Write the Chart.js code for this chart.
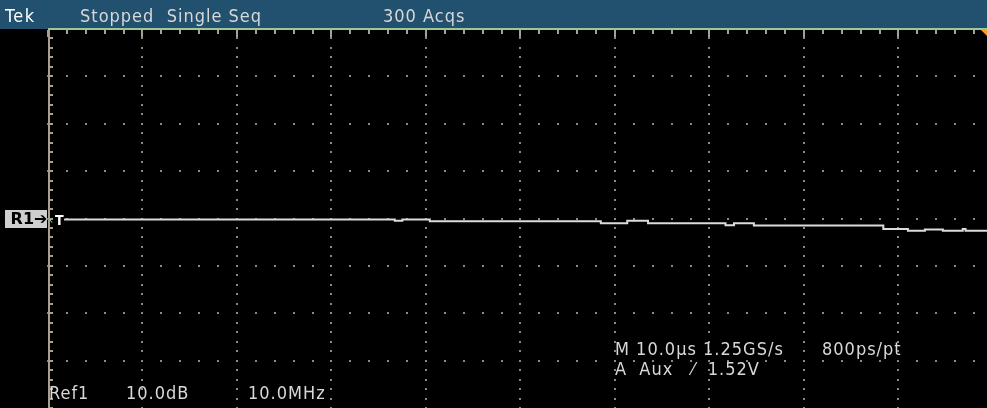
<!DOCTYPE html>
<html>
<head>
<meta charset="utf-8">
<script src="https://cdn.jsdelivr.net/npm/chart.js@4.4.1/dist/chart.umd.min.js"></script>
<style>
    html, body { margin: 0; padding: 0; background: #000; }
    #scope { position: relative; width: 987px; height: 408px; background: #000; overflow: hidden; }
    #barra { position: absolute; left: 0; top: 0; width: 987px; height: 29px; background: #22506f; }
    canvas { position: absolute; left: 0; top: 0; }
    .txt {
        position: absolute; white-space: pre; color: #d8d8d8;
        font-family: "DejaVu Sans Condensed", "Liberation Sans Narrow", "DejaVu Sans", sans-serif;
        font-stretch: condensed; font-size: 18px; line-height: 18px; letter-spacing: 1px;
    }
    #r1 {
        position: absolute; left: 5px; top: 210px; width: 42px; height: 18px;
        background: #cfcfcf; color: #000; font: bold 16px "DejaVu Sans", sans-serif; line-height: 18px;
        white-space: pre;
    }
</style>
</head>
<body>
<div id="scope">
    <div id="barra"></div>
    <canvas id="graficaTraza" width="987" height="408"></canvas>
    <div class="txt" style="left:5px; top:7px; color:#fff; letter-spacing:1.5px;">Tek</div>
    <div class="txt" style="left:80px; top:7px;">Stopped  Single Seq</div>
    <div class="txt" style="left:383px; top:7px;">300 Acqs</div>
    <div id="r1"> R1➔</div>
    <div class="txt" style="left:49px; top:211px; color:#7fd07f; font-size:12px; letter-spacing:0;">‹</div>
    <div class="txt" style="left:55px; top:211px; color:#fff; font-weight:bold; font-size:14px; letter-spacing:0;">T</div>
    <div class="txt" style="left:615px; top:340px;">M 10.0µs 1.25GS/s</div>
    <div class="txt" style="left:822px; top:340px;">800ps/pt</div>
    <div class="txt" style="left:615px; top:360px;">A  Aux   ⁄  1.52V</div>
    <div class="txt" style="left:49px; top:384px;">Ref1</div>
    <div class="txt" style="left:126px; top:384px;">10.0dB</div>
    <div class="txt" style="left:248px; top:384px;">10.0MHz</div>
</div>
<script>
// Datos de la traza (tiempo en µs desde el borde izquierdo, nivel en dB)
const tiempoUs = [1.7, 36.7, 37.5, 40.4, 58.5, 61.3, 63.5, 71.7, 72.6, 74.7, 88.4, 91.0, 92.8, 94.7, 96.8, 97.1, 99.4];
const nivelDb = [-0.2, -0.5, -0.2, -0.6, -1.0, -0.5, -1.0, -1.4, -1.0, -1.5, -2.2, -2.6, -2.3, -2.6, -2.2, -2.6, -2.6];

// Escalas: 10 µs/div horizontal, 10 dB/div vertical
const divX = [0, 10, 20, 30, 40, 50, 60, 70, 80, 90];
const divY = [-30, -20, -10, 0, 10, 20, 30];
const X_MAX = 99.37;

// Dibuja la reticula del osciloscopio usando las escalas del grafico
const reticula = {
    id: 'reticula',
    beforeDatasetsDraw(chart) {
        const c = chart.ctx;
        const sx = chart.scales.x;
        const sy = chart.scales.y;
        const area = chart.chartArea;
        c.save();
        c.fillStyle = '#8a8a8a';
        // columnas punteadas
        for (const v of divX) {
            if (v === 0) continue;
            const px = Math.round(sx.getPixelForValue(v));
            for (let y = -40; y <= 40; y += 2) {
                const py = Math.round(sy.getPixelForValue(y));
                c.fillRect(px - 1, py - 1, 2, 2);
            }
        }
        // filas punteadas
        for (const v of divY) {
            const py = Math.round(sy.getPixelForValue(v));
            for (let x = 0; x <= X_MAX; x += 2) {
                const px = Math.round(sx.getPixelForValue(x));
                c.fillRect(px - 1, py - 1, 2, 2);
            }
        }
        // borde izquierdo con marcas
        const x0 = Math.round(sx.getPixelForValue(0));
        c.fillStyle = '#a89f90';
        c.fillRect(x0, area.top, 2, area.bottom - area.top);
        for (let y = -40; y <= 40; y += 2) {
            const py = Math.round(sy.getPixelForValue(y));
            c.fillRect(x0 + 2, py - 1, 3, 2);
        }
        // borde superior verde con marcas
        for (let x = 0; x <= X_MAX; x += 2) {
            const px = Math.round(sx.getPixelForValue(x));
            const largo = (x % 10 === 0) ? 7 : 4;
            c.fillRect(px - 1, area.top + 1, 2, largo);
        }
        c.fillStyle = '#9cc89a';
        c.fillRect(x0, area.top - 1, area.right - x0, 2);
        // marcador naranja arriba a la derecha
        c.fillStyle = '#ff9a1a';
        c.beginPath();
        c.moveTo(area.right - 6, area.top + 1);
        c.lineTo(area.right, area.top + 1);
        c.lineTo(area.right, area.top + 7);
        c.closePath();
        c.fill();
        c.restore();
    }
};

const puntos = tiempoUs.map((t, i) => ({ x: t, y: nivelDb[i] }));

new Chart(document.getElementById('graficaTraza').getContext('2d'), {
    type: 'line',
    data: {
        datasets: [{
            label: 'Ref1',
            data: puntos,
            borderColor: '#dcdcdc',
            borderWidth: 2,
            pointRadius: 0,
            stepped: 'before',
            fill: false
        }]
    },
    options: {
        responsive: false,
        animation: false,
        events: [],
        layout: { padding: { left: 48, top: 29, right: 0, bottom: 0 } },
        plugins: { legend: { display: false }, tooltip: { enabled: false } },
        scales: {
            x: { type: 'linear', min: 0, max: X_MAX, display: false },
            y: { type: 'linear', min: -40, max: 40, display: false }
        }
    },
    plugins: [reticula]
});
</script>
</body>
</html>
